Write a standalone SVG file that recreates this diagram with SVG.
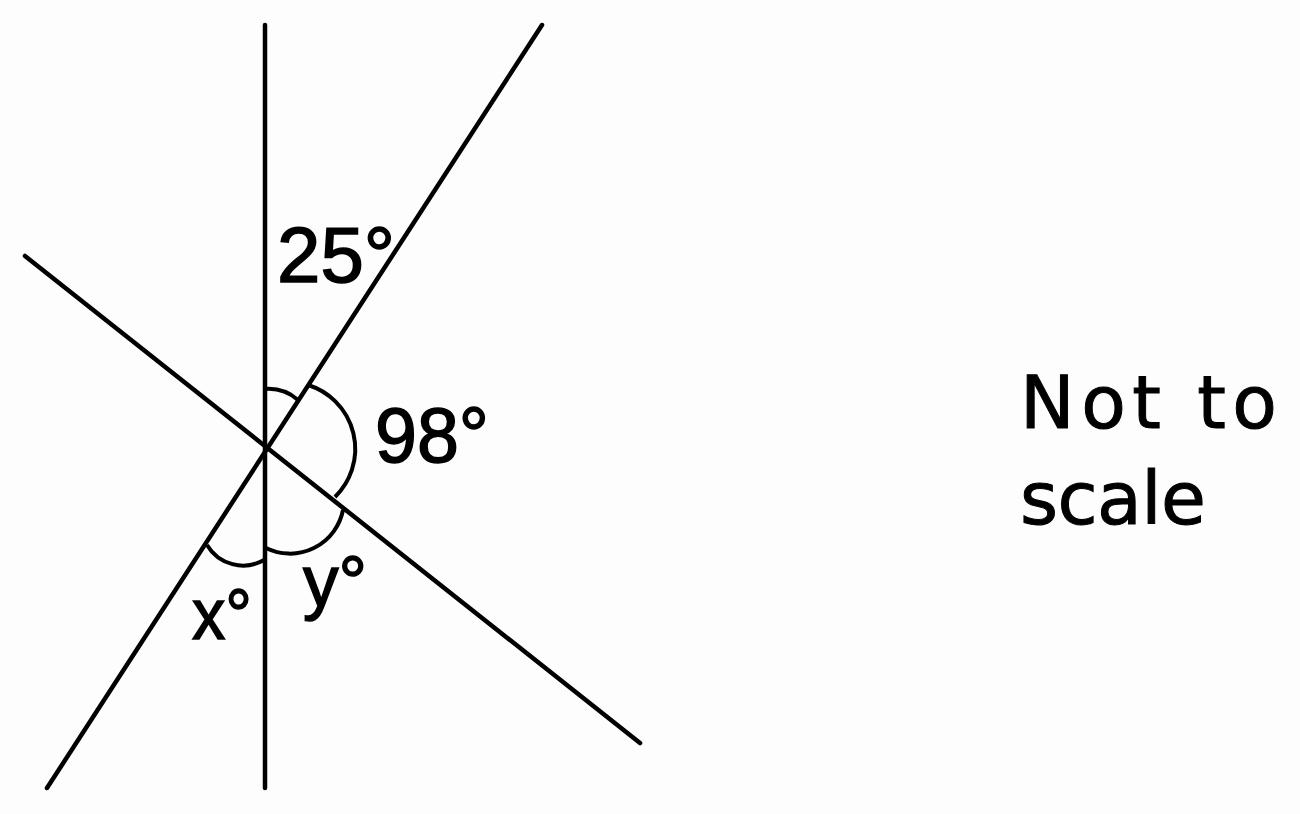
<svg xmlns="http://www.w3.org/2000/svg" width="1300" height="814" viewBox="0 0 1300 814">
<style>
.ln{stroke:#000;stroke-width:4.5;stroke-linecap:round;fill:none}
.arc{stroke:#000;stroke-width:4;fill:none}
.t{font-family:"Liberation Sans","DejaVu Sans",sans-serif;fill:#000;stroke:#000;stroke-width:1.5}
.n{font-family:"DejaVu Sans","Liberation Sans",sans-serif;fill:#000;stroke:#000;stroke-width:1}
</style>
<rect width="1300" height="814" fill="#fdfdfd"/>
<g id="connectors">
<line class="ln" x1="265" y1="25" x2="265" y2="788"/>
<line class="ln" x1="542" y1="25" x2="47" y2="788"/>
<line class="ln" x1="25" y1="256" x2="640" y2="743"/>
</g>
<g id="angle-25">
<path class="arc" d="M265 389 A45 45 0 0 1 298 400"/>
<text class="t" x="277" y="282" font-size="78" textLength="118" lengthAdjust="spacingAndGlyphs">25°</text>
</g>
<g id="angle-98">
<path class="arc" d="M308 385 A67 67 0 0 1 335 497"/>
<text class="t" x="375" y="462" font-size="78" textLength="114" lengthAdjust="spacingAndGlyphs">98°</text>
</g>
<g id="angle-y">
<path class="arc" d="M343 510 A54 54 0 0 1 266 548"/>
<text class="t" x="303" y="606" font-size="72" textLength="64" lengthAdjust="spacingAndGlyphs">y°</text>
</g>
<g id="angle-x">
<path class="arc" d="M207 545 A42 42 0 0 0 264 560"/>
<text class="t" x="192" y="639" font-size="72" textLength="60" lengthAdjust="spacingAndGlyphs">x°</text>
</g>
<g id="note">
<text class="n" x="1020" y="428" font-size="73" textLength="257" lengthAdjust="spacing">Not to</text>
<text class="n" x="1020" y="524" font-size="73" textLength="186" lengthAdjust="spacing">scale</text>
</g>
</svg>
